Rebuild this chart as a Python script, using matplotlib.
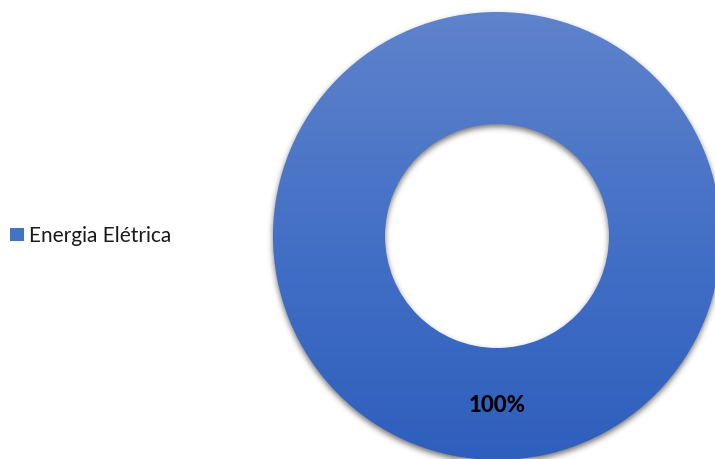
import numpy as np
import matplotlib
matplotlib.use("Agg")
import matplotlib.pyplot as plt
from matplotlib.colors import LinearSegmentedColormap

# Energy source shares
categories = ["Energia Elétrica"]
values = [100]

W, H = 715, 459
plt.rcParams["font.family"] = ["Lato", "DejaVu Sans"]

fig = plt.figure(figsize=(W / 100, H / 100), dpi=100)
ax = fig.add_axes([0, 0, 1, 1])

center = (497, 223)
radius = 224
ring_width = 112

wedges, texts, autotexts = ax.pie(
    values,
    radius=radius,
    center=center,
    startangle=90,
    colors=["#4472c4"],
    wedgeprops=dict(width=ring_width, edgecolor="none", linewidth=0),
    autopct="%1.0f%%",
    pctdistance=0.755,
    textprops=dict(fontsize=16, fontweight="black", color="black"),
)
ax.set_xlim(0, W)
ax.set_ylim(0, H)
ax.set_aspect("equal")
ax.axis("off")

# Legend on the left, built before the fill is swapped for a gradient
leg = ax.legend(
    wedges, categories,
    loc="center left", bbox_to_anchor=(10 / W, 1 - 236 / H),
    frameon=False, fontsize=15,
    handlelength=0.68, handleheight=0.6, handletextpad=0.25,
    borderpad=0, borderaxespad=0,
)
for t in leg.get_texts():
    t.set_color("#1a1a1a")

# Vertical gradient fill clipped to the ring
ring = wedges[0]
ring.set_facecolor("none")
cmap = LinearSegmentedColormap.from_list("ring", ["#2e5fbd", "#4470c6", "#5f83cc"])
grad = np.linspace(0, 1, 256).reshape(-1, 1)
cx, cy = ring.center
r_out = ring.r
r_in = ring.r - ring.width
x0, x1 = cx - r_out, cx + r_out
y0, y1 = cy - r_out, cy + r_out
im = ax.imshow(grad, extent=(x0, x1, y0, y1), origin="lower", cmap=cmap,
               aspect="auto", zorder=2, interpolation="bilinear")
im.set_clip_path(ring)

# Soft drop shadow beneath the ring
offset = 3.0
xs = np.arange(W) + 0.5
ys = np.arange(H) + 0.5
gx, gy = np.meshgrid(xs, ys)
dist = np.hypot(gx - cx, gy + offset - cy)
mask = ((dist <= r_out) & (dist >= r_in)).astype(float)
sigma = 3.0
k = np.arange(-10, 11)
kernel = np.exp(-0.5 * (k / sigma) ** 2)
kernel /= kernel.sum()
blur = np.apply_along_axis(lambda r: np.convolve(r, kernel, mode="same"), 1, mask)
blur = np.apply_along_axis(lambda c: np.convolve(c, kernel, mode="same"), 0, blur)
shadow = np.zeros((H, W, 4))
shadow[..., 3] = blur * 0.55
ax.imshow(shadow, extent=(0, W, 0, H), origin="lower", zorder=1,
          aspect="auto", interpolation="bilinear")

for t in autotexts:
    t.set_zorder(5)

ax.set_xlim(0, W)
ax.set_ylim(0, H)
fig.savefig("out.png", dpi=100)
